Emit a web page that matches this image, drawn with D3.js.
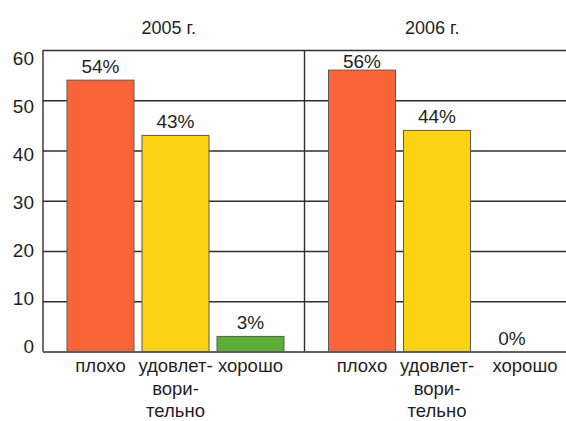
<!DOCTYPE html>
<html>
<head>
<meta charset="utf-8">
<script src="https://cdn.jsdelivr.net/npm/d3@7"></script>
<style>
  html, body { margin: 0; padding: 0; background: #fff; }
  svg { display: block; }
  text { font-family: "Liberation Sans", Arial, sans-serif; fill: #1f1f1f; }
</style>
</head>
<body>
<svg id="chart" width="566" height="421"></svg>
<script>
// Survey results by year, percent of respondents
const years = ["2005 г.", "2006 г."];
const categories = ["плохо", "удовлетворительно", "хорошо"];
const categoryLines = [["плохо"], ["удовлет-", "вори-", "тельно"], ["хорошо"]];
const values2005 = [54, 43, 3];
const values2006 = [56, 44, 0];
const yTicks = [0, 10, 20, 30, 40, 50, 60];
const colors = ["#fb6439", "#fdd213", "#5dae37"];

const seriesByYear = [values2005, values2006];

const svg = d3.select("#chart");
const W = 566;
const plotLeft = 43, plotRight = W, plotTop = 50, plotBottom = 351.5;

const y = d3.scaleLinear().domain([0, 60]).range([plotBottom, plotTop]);
// tick labels sit on a slightly tighter ladder than the gridlines
const yLabel = d3.scaleLinear().domain([0, 60]).range([346, 57.5]);

const xYear = d3.scaleBand().domain(years).range([plotLeft, plotRight]).padding(0);

// horizontal gridlines + tick labels
const axis = d3.axisLeft(y)
  .tickValues(yTicks)
  .tickSize(-(plotRight - plotLeft))
  .tickPadding(10)
  .tickFormat(d3.format("d"));

const gAxis = svg.append("g")
  .attr("transform", `translate(${plotLeft},0)`)
  .call(axis);
gAxis.select(".domain").remove();
gAxis.selectAll(".tick line")
  .attr("stroke", "#2e2e2e")
  .attr("stroke-width", 1.4);
gAxis.selectAll(".tick text")
  .attr("x", -9)
  .attr("y", d => yLabel(d) - y(d))
  .attr("dy", "0.35em")
  .style("font-size", "19px")
  .style("fill", "#1f1f1f")
  .style("font-family", "'Liberation Sans', Arial, sans-serif");

// vertical axis line and year divider
svg.append("line")
  .attr("x1", plotLeft).attr("x2", plotLeft)
  .attr("y1", plotTop).attr("y2", plotBottom)
  .attr("stroke", "#2e2e2e").attr("stroke-width", 1.4);
svg.append("line")
  .attr("x1", xYear(years[1])).attr("x2", xYear(years[1]))
  .attr("y1", plotTop).attr("y2", plotBottom)
  .attr("stroke", "#2e2e2e").attr("stroke-width", 1.4);

// bars per year
years.forEach((yr, i) => {
  const g0 = xYear(yr);
  const x = d3.scaleBand()
    .domain(categories)
    .range([g0 + 24, g0 + 241])
    .paddingInner(0.107)
    .paddingOuter(0);

  const data = categories.map((c, k) => ({ c, k, v: seriesByYear[i][k] }));

  const g = svg.append("g");

  // year title
  g.append("text")
    .attr("x", g0 + xYear.bandwidth() / 2 + (i === 0 ? -5 : -3))
    .attr("y", 34)
    .attr("text-anchor", "middle")
    .style("font-size", "18px")
    .text(yr);

  g.selectAll("rect.bar")
    .data(data.filter(d => d.v > 0))
    .join("rect")
    .attr("class", "bar")
    .attr("x", d => x(d.c))
    .attr("width", x.bandwidth())
    .attr("y", d => y(d.v))
    .attr("height", d => y(0) - y(d.v))
    .attr("fill", d => colors[d.k])
    .attr("stroke", "#5a5a5a")
    .attr("stroke-width", 1);

  // value labels
  g.selectAll("text.val")
    .data(data)
    .join("text")
    .attr("class", "val")
    .attr("x", d => x(d.c) + x.bandwidth() / 2)
    .attr("y", d => Math.max(y(d.v) - 7, plotTop + 18))
    .attr("text-anchor", "middle")
    .style("font-size", "19px")
    .text(d => d.v + "%");

  // category labels (multi-line); the last label of the right panel
  // is nudged toward the free space at the edge
  const nudge = d => (i === 1 && d.k === 2 ? 13 : 0);
  const cat = g.selectAll("text.cat")
    .data(data)
    .join("text")
    .attr("class", "cat")
    .attr("text-anchor", "middle")
    .style("font-size", "18.5px")
    .attr("transform", d => `translate(${x(d.c) + x.bandwidth() / 2 + nudge(d)},372)`);
  cat.selectAll("tspan")
    .data(d => categoryLines[d.k])
    .join("tspan")
    .attr("x", 0)
    .attr("y", (t, j) => j * 22.5)
    .text(t => t);
});
</script>
</body>
</html>
